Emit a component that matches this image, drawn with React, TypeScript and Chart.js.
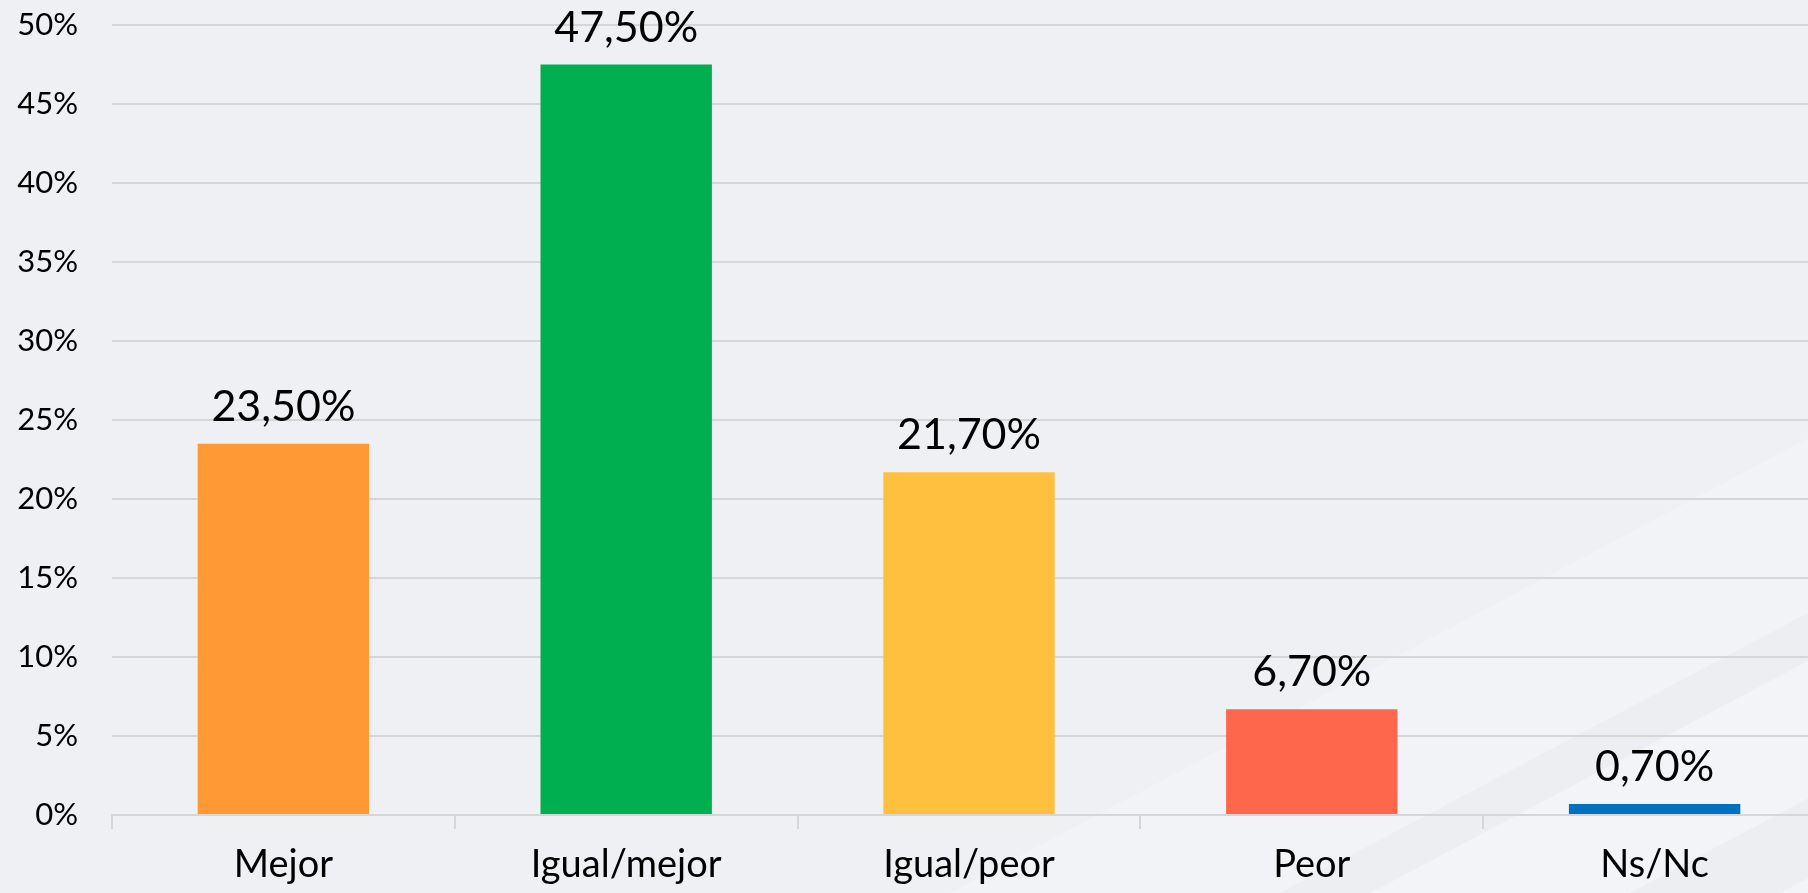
import React, { useEffect, useRef } from "react";
import { Chart, registerables } from "chart.js";

Chart.register(...registerables);

const categories = ["Mejor", "Igual/mejor", "Igual/peor", "Peor", "Ns/Nc"];
const values = [23.5, 47.5, 21.7, 6.7, 0.7];
const barColors = ["#FF9933", "#00B050", "#FFC03F", "#FF674D", "#0070C0"];
const yMax = 50;
const yStep = 5;

const FONT = "Lato, 'Open Sans', sans-serif";

const backgroundPlugin = {
  id: "bgBands",
  beforeDraw(chart: any) {
    const { ctx, width, height } = chart;
    ctx.save();
    ctx.fillStyle = "#EFF0F4";
    ctx.fillRect(0, 0, width, height);
    const slope = 0.53;
    const bands = [
      { x0: 950, w: 330, c: "rgba(255,255,255,0.22)" },
      { x0: 1280, w: 90, c: "rgba(228,230,235,0.22)" },
      { x0: 1370, w: 260, c: "rgba(255,255,255,0.25)" },
      { x0: 1630, w: 150, c: "rgba(228,230,235,0.22)" },
      { x0: 1780, w: 400, c: "rgba(255,255,255,0.25)" },
    ];
    bands.forEach((b) => {
      ctx.beginPath();
      ctx.moveTo(b.x0, height);
      ctx.lineTo(b.x0 + b.w, height);
      ctx.lineTo(b.x0 + b.w + height / slope, 0);
      ctx.lineTo(b.x0 + height / slope, 0);
      ctx.closePath();
      ctx.fillStyle = b.c;
      ctx.fill();
    });
    ctx.restore();
  },
};

const dataLabelPlugin = {
  id: "dataLabels",
  afterDatasetsDraw(chart: any) {
    const { ctx } = chart;
    const meta = chart.getDatasetMeta(0);
    ctx.save();
    ctx.font = `43px ${FONT}`;
    ctx.fillStyle = "#000000";
    ctx.textAlign = "center";
    ctx.textBaseline = "alphabetic";
    meta.data.forEach((bar: any, i: number) => {
      const v = values[i];
      const txt = v.toFixed(2).replace(".", ",") + "%";
      ctx.fillText(txt, bar.x, bar.y - 23);
    });
    ctx.restore();
  },
};

export default function App() {
  const ref = useRef<HTMLCanvasElement | null>(null);
  useEffect(() => {
    document.body.style.margin = "0";
    document.body.style.overflow = "hidden";
    if (!ref.current) return;
    const chart = new Chart(ref.current, {
      type: "bar",
      data: {
        labels: categories,
        datasets: [
          {
            data: values,
            backgroundColor: barColors,
            borderWidth: 0,
            barPercentage: 0.5,
            categoryPercentage: 1,
          },
        ],
      },
      options: {
        animation: false,
        responsive: true,
        maintainAspectRatio: false,
        layout: { padding: { top: 25, right: 0, left: 0, bottom: 0 } },
        plugins: { legend: { display: false }, tooltip: { enabled: false } },
        scales: {
          x: {
            grid: {
              offset: true,
              drawOnChartArea: false,
              tickLength: 14,
              color: "#D6D6D6",
              lineWidth: 2,
            },
            border: { color: "#D6D6D6", width: 2 },
            ticks: {
              color: "#000000",
              font: { family: FONT, size: 38 },
              padding: 13,
              maxRotation: 0,
              autoSkip: false,
            },
            afterFit(scale: any) {
              scale.height = 78;
              scale.paddingLeft = 0;
              scale.paddingRight = 0;
            },
          },
          y: {
            min: 0,
            max: yMax,
            grid: { color: "#D6D6D6", lineWidth: 2, drawTicks: false },
            border: { display: false },
            ticks: {
              stepSize: yStep,
              color: "#000000",
              font: { family: FONT, size: 31 },
              padding: 34,
              callback: (v: any) => `${v}%`,
            },
            afterFit(scale: any) {
              scale.width = 112;
              scale.paddingTop = 0;
              scale.paddingBottom = 0;
            },
          },
        },
      },
      plugins: [backgroundPlugin, dataLabelPlugin],
    });
    return () => chart.destroy();
  }, []);

  return (
    <div style={{ width: 1808, height: 893, overflow: "hidden", position: "relative" }}>
      <div style={{ width: 1826, height: 893, position: "absolute", left: 0, top: 0 }}>
        <canvas ref={ref} />
      </div>
    </div>
  );
}
